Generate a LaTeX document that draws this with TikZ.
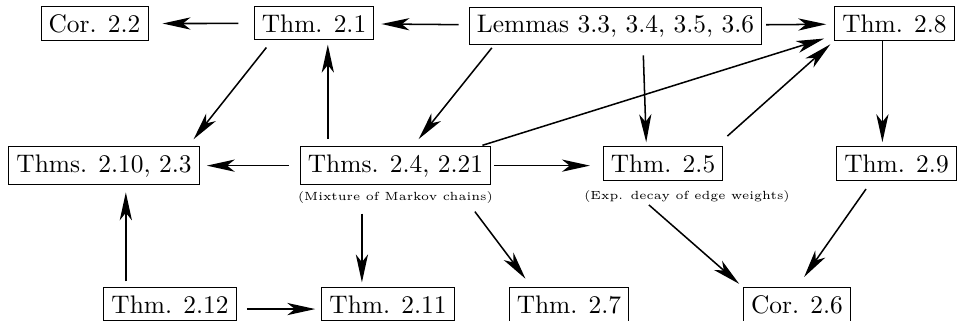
\documentclass[tikz,border=0pt]{standalone}
\usepackage{tikz}
\usetikzlibrary{arrows.meta,calc}

\begin{document}
\begin{tikzpicture}[
  thm/.style={draw, inner sep=3pt, anchor=base},
  sub/.style={font=\fontsize{4.65}{5}\selectfont, inner sep=0pt, anchor=base},
  dep/.style={-{Stealth[length=11pt,width=4.8pt,inset=3pt]}, line width=0.6pt}]
  \useasboundingbox (0,0) rectangle (13.27,4.428);
  % top row
  \node [thm] (cor22) at (1.308, 3.982) {Cor. 2.2};
  \node [thm] (thm21) at (4.345, 3.982) {Thm. 2.1};
  \node [thm] (lemmas) at (8.517, 3.982) {Lemmas 3.3, 3.4, 3.5, 3.6};
  \node [thm] (thm28) at (12.377, 3.982) {Thm. 2.8};
  % middle row
  \node [thm] (thms210) at (1.439, 2.048) {Thms. 2.10, 2.3};
  \node [thm] (thms24) at (5.472, 2.048) {Thms. 2.4, 2.21};
  \node [thm] (thm25) at (9.174, 2.048) {Thm. 2.5};
  \node [thm] (thm29) at (12.405, 2.048) {Thm. 2.9};
  \node [sub] (mix) at (5.472, 1.66) {(Mixture of Markov chains)};
  \node [sub] (exp) at (9.506, 1.67) {(Exp. decay of edge weights)};
  % bottom row
  \node [thm] (thm212) at (2.352, 0.094) {Thm. 2.12};
  \node [thm] (thm211) at (5.369, 0.094) {Thm. 2.11};
  \node [thm] (thm27) at (7.873, 0.094) {Thm. 2.7};
  \node [thm] (cor26) at (11.028, 0.094) {Cor. 2.6};
  \draw [dep, shorten <=6pt, shorten >=5.5pt] (thm21) -- (cor22);
  \draw [dep, shorten <=4pt, shorten >=2.8pt] (lemmas) -- (thm21);
  \draw [dep, shorten <=1.6pt, shorten >=3.1pt] (lemmas) -- (thm28);
  \draw [dep, shorten <=3.6pt, shorten >=3.5pt] (thm21.202) -- (thms210.13);
  \draw [dep, shorten <=2.8pt, shorten >=1.7pt] (thms24.164) -- (thms24.164 |- thm21.south);
  \draw [dep, shorten <=1.3pt, shorten >=3.6pt] (lemmas.189) -- (thms24.48);
  \draw [dep, shorten <=4pt, shorten >=1.6pt] (lemmas.-35) -- (thm25.134);
  \draw [dep, shorten <=1.2pt, shorten >=4.1pt] (thms24.13) -- (thm28.191);
  \draw [dep, shorten <=6pt, shorten >=2pt] (thm25.18) -- (thm28.south west);
  \draw [dep, shorten >=1.6pt] (thm28.235) -- (thm28.235 |- thm29.north);
  \draw [dep, shorten <=4.3pt, shorten >=2.8pt] (thms24) -- (thms210);
  \draw [dep, shorten <=1.2pt, shorten >=5pt] (thms24.east) -- (thms24.east -| thm25.west);
  \draw [dep, shorten <=2.4pt, shorten >=2.9pt] (thm212.159) -- (thm212.159 |- thms210.south);
  \draw [dep, shorten <=4pt, shorten >=2.4pt] (thm212.-4) -- (thm212.-4 -| thm211.west);
  \draw [dep, shorten <=4pt, shorten >=2pt] (thm211.147 |- mix.south) -- (thm211.147);
  \draw [dep, shorten <=4pt, shorten >=4.3pt] (mix.-5) -- (thm27.155);
  \draw [dep, shorten <=1.3pt, shorten >=2pt] (exp.189) -- (cor26.north west);
  \draw [dep, shorten <=4pt, shorten >=4.9pt] (thm29.215) -- (cor26.north);
\end{tikzpicture}
\end{document}
